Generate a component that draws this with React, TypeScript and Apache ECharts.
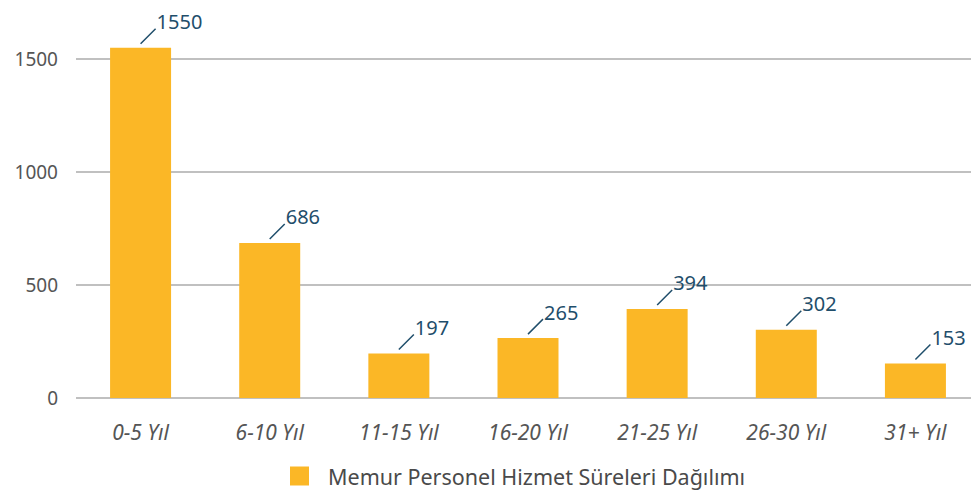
import React, { useEffect, useRef } from "react";
import * as echarts from "echarts";

const categories = ["0-5 Yıl", "6-10 Yıl", "11-15 Yıl", "16-20 Yıl", "21-25 Yıl", "26-30 Yıl", "31+ Yıl"];
const values = [1550, 686, 197, 265, 394, 302, 153];
const seriesName = "Memur Personel Hizmet Süreleri Dağılımı";
const yTicks = { min: 0, max: 1500, interval: 500 };

const FONT = "Noto Sans";

export default function App() {
  const ref = useRef<HTMLDivElement>(null);
  useEffect(() => {
    if (!ref.current) return;
    const chart = echarts.init(ref.current, undefined, { renderer: "svg" });
    chart.setOption({
      animation: false,
      textStyle: { fontFamily: FONT },
      grid: {
        left: 76,
        width: 904,
        top: 59,
        bottom: 92,
        containLabel: false,
        outerBoundsMode: "none",
      },
      legend: {
        data: [seriesName],
        left: 290,
        top: 465,
        padding: 0,
        icon: "rect",
        itemWidth: 19,
        itemHeight: 19,
        itemGap: 18,
        textStyle: {
          fontFamily: FONT,
          fontSize: 21.5,
          lineHeight: 22,
          color: "#4a4a4a",
          padding: [0, 0, 0, 14],
        },
      },
      xAxis: {
        type: "category",
        data: categories,
        boundaryGap: true,
        axisLine: { show: false },
        axisTick: { show: false },
        axisLabel: {
          margin: 23,
          fontFamily: FONT,
          fontStyle: "italic",
          fontSize: 21,
          color: "#555555",
        },
      },
      yAxis: {
        type: "value",
        min: yTicks.min,
        max: yTicks.max,
        interval: yTicks.interval,
        axisLine: { show: false },
        axisTick: { show: false },
        axisLabel: {
          margin: 18,
          fontFamily: FONT,
          fontSize: 19,
          color: "#555555",
          formatter: (v: number) => String(v),
        },
        splitLine: { lineStyle: { color: "#c0c0c0", width: 2 } },
      },
      series: [
        {
          name: seriesName,
          type: "bar",
          data: values,
          barWidth: 61,
          clip: false,
          itemStyle: { color: "#FBB726" },
        },
        {
          name: "labels",
          type: "custom",
          clip: false,
          silent: true,
          z: 5,
          data: values.map((v, i) => [i, v]),
          renderItem: (params: any, api: any) => {
            const p = api.coord([api.value(0), api.value(1)]);
            const x = p[0];
            const y = p[1];
            return {
              type: "group",
              children: [
                {
                  type: "line",
                  shape: { x1: x, y1: y - 4, x2: x + 15, y2: y - 19 },
                  style: { stroke: "#1f4e6b", lineWidth: 1.5 },
                },
                {
                  type: "text",
                  style: {
                    x: x + 16,
                    y: y - 26,
                    text: String(api.value(1)),
                    textAlign: "left",
                    textVerticalAlign: "middle",
                    fontFamily: FONT,
                    fontSize: 20,
                    fill: "#1f4e6b",
                  },
                },
              ],
            };
          },
        },
      ],
    });
    return () => chart.dispose();
  }, []);
  return (
    <div
      ref={ref}
      style={{ position: "absolute", left: 0, top: 0, width: 971, height: 490, background: "#ffffff" }}
    />
  );
}
